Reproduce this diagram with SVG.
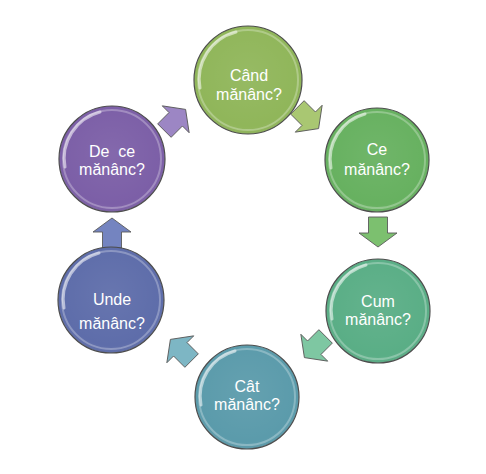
<svg xmlns="http://www.w3.org/2000/svg" width="486" height="474" viewBox="0 0 486 474">
<style>
.node circle.b{stroke:#4d4d4d;stroke-width:1.2}
.ring{fill:none;stroke:#ffffff;stroke-opacity:0.28;stroke-width:2}
.hl{fill:none;stroke:#ffffff;stroke-opacity:0.55;stroke-width:3;stroke-linecap:round}
.t{font-family:"Liberation Sans","Noto Sans",sans-serif;font-size:16px;fill:#ffffff;text-anchor:middle;white-space:pre}
.arr{stroke:#5a5a5a;stroke-width:0.9;stroke-linejoin:miter}
</style>
<defs>
<path id="ar" d="M-15,-9.5 L1,-9.5 L1,-19 L15,0 L1,19 L1,9.5 L-15,9.5 Z"/>
<radialGradient id="sh" cx="0.5" cy="0.45" r="0.6">
<stop offset="0" stop-color="#ffffff" stop-opacity="0.06"/>
<stop offset="0.8" stop-color="#ffffff" stop-opacity="0"/>
<stop offset="1" stop-color="#000000" stop-opacity="0.12"/>
</radialGradient>
</defs>
<rect width="486" height="474" fill="#ffffff"/>
<g id="connectors">
<use href="#ar" class="arr" fill="#9c86c4" transform="translate(175,120) rotate(-45)"/>
<use href="#ar" class="arr" fill="#a9c772" transform="translate(308,118) rotate(45)"/>
<use href="#ar" class="arr" fill="#7cc06f" transform="translate(378,232) rotate(90)"/>
<use href="#ar" class="arr" fill="#7ec7a2" transform="translate(315,347) rotate(135)"/>
<use href="#ar" class="arr" fill="#7db6c4" transform="translate(181,350) rotate(-135)"/>
<use href="#ar" class="arr" fill="#7484c0" transform="translate(112,233) rotate(-90)"/>
</g>
<g id="n-cand" class="node">
<circle class="b" cx="248" cy="80" r="54" fill="#90b65a"/>
<circle cx="248" cy="80" r="54" fill="url(#sh)"/>
<circle class="ring" cx="248" cy="80" r="50"/>
<path class="hl" d="M200,88 A49,49 0 0 1 236,32"/>
<text class="t" x="249" y="81">Când</text>
<text class="t" x="249" y="100">mănânc?</text>
</g>
<g id="n-ce" class="node">
<circle class="b" cx="377" cy="160" r="52" fill="#67b160"/>
<circle cx="377" cy="160" r="52" fill="url(#sh)"/>
<circle class="ring" cx="377" cy="160" r="48"/>
<path class="hl" d="M331,168 A47,47 0 0 1 365,114"/>
<text class="t" x="377" y="155">Ce</text>
<text class="t" x="377" y="175">mănânc?</text>
</g>
<g id="n-cum" class="node">
<circle class="b" cx="378" cy="311" r="52" fill="#5aae86"/>
<circle cx="378" cy="311" r="52" fill="url(#sh)"/>
<circle class="ring" cx="378" cy="311" r="48"/>
<path class="hl" d="M332,319 A47,47 0 0 1 366,265"/>
<text class="t" x="378" y="307">Cum</text>
<text class="t" x="378" y="325">mănânc?</text>
</g>
<g id="n-cat" class="node">
<circle class="b" cx="247" cy="397" r="52" fill="#5b9bab"/>
<circle cx="247" cy="397" r="52" fill="url(#sh)"/>
<circle class="ring" cx="247" cy="397" r="48"/>
<path class="hl" d="M201,405 A47,47 0 0 1 235,351"/>
<text class="t" x="247" y="392">Cât</text>
<text class="t" x="247" y="410">mănânc?</text>
</g>
<g id="n-unde" class="node">
<circle class="b" cx="111" cy="300" r="53" fill="#5e6daa"/>
<circle cx="111" cy="300" r="53" fill="url(#sh)"/>
<circle class="ring" cx="111" cy="300" r="49"/>
<path class="hl" d="M64,308 A48,48 0 0 1 99,253"/>
<text class="t" x="112" y="305">Unde</text>
<text class="t" x="112" y="329">mănânc?</text>
</g>
<g id="n-dece" class="node">
<circle class="b" cx="112" cy="159" r="53" fill="#7c5fa7"/>
<circle cx="112" cy="159" r="53" fill="url(#sh)"/>
<circle class="ring" cx="112" cy="159" r="49"/>
<path class="hl" d="M65,167 A48,48 0 0 1 100,112"/>
<text class="t" x="112" y="157">De  ce</text>
<text class="t" x="112" y="175">mănânc?</text>
</g>
</svg>
